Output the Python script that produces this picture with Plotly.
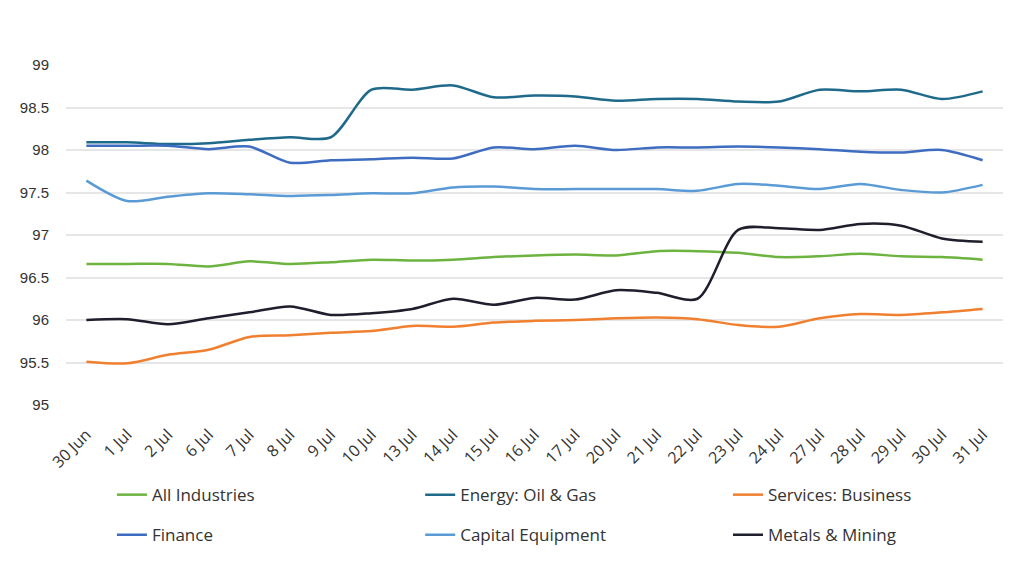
import plotly.graph_objects as go

dates = ["30 Jun", "1 Jul", "2 Jul", "6 Jul", "7 Jul", "8 Jul", "9 Jul", "10 Jul",
         "13 Jul", "14 Jul", "15 Jul", "16 Jul", "17 Jul", "20 Jul", "21 Jul",
         "22 Jul", "23 Jul", "24 Jul", "27 Jul", "28 Jul", "29 Jul", "30 Jul", "31 Jul"]

all_industries = [96.66, 96.66, 96.66, 96.63, 96.69, 96.66, 96.68, 96.71, 96.70, 96.71,
                  96.74, 96.76, 96.77, 96.76, 96.81, 96.81, 96.79, 96.74, 96.75, 96.78,
                  96.75, 96.74, 96.71]
energy = [98.09, 98.09, 98.07, 98.08, 98.12, 98.15, 98.15, 98.71, 98.71, 98.76,
          98.62, 98.64, 98.63, 98.58, 98.60, 98.60, 98.57, 98.57, 98.71, 98.69,
          98.71, 98.60, 98.69]
services = [95.51, 95.49, 95.59, 95.65, 95.80, 95.82, 95.85, 95.87, 95.93, 95.92,
            95.97, 95.99, 96.00, 96.02, 96.03, 96.01, 95.94, 95.92, 96.02, 96.07,
            96.06, 96.09, 96.13]
finance = [98.05, 98.05, 98.05, 98.01, 98.04, 97.85, 97.88, 97.89, 97.91, 97.90,
           98.03, 98.01, 98.05, 98.00, 98.03, 98.03, 98.04, 98.03, 98.01, 97.98,
           97.97, 98.00, 97.88]
capital_equipment = [97.64, 97.40, 97.45, 97.49, 97.48, 97.46, 97.47, 97.49, 97.49, 97.56,
                     97.57, 97.54, 97.54, 97.54, 97.54, 97.52, 97.60, 97.58, 97.54, 97.60,
                     97.53, 97.50, 97.59]
metals = [96.00, 96.01, 95.95, 96.02, 96.09, 96.16, 96.06, 96.08, 96.13, 96.25,
          96.18, 96.26, 96.24, 96.35, 96.32, 96.25, 97.06, 97.08, 97.06, 97.13,
          97.11, 96.96, 96.92]

names = ["All Industries", "Energy: Oil & Gas", "Services: Business",
         "Finance", "Capital Equipment", "Metals & Mining"]
values = [all_industries, energy, services, finance, capital_equipment, metals]
colors = ["#6DB33F", "#1F6A8A", "#F07F2F", "#3D6CC0", "#5B9BD5", "#1E1E2C"]

# legend grid: 3 columns x 2 rows, one small legend per entry
col_x = [0.049, 0.378, 0.7065]
row_y = [-0.265, -0.383]

fig = go.Figure()
legends = {}
for i, (name, vals, color) in enumerate(zip(names, values, colors)):
    key = "legend" if i == 0 else f"legend{i + 1}"
    fig.add_trace(go.Scatter(
        x=dates, y=vals, mode="lines", name=name, legend=key,
        line=dict(color=color, width=2.5, shape="spline", smoothing=0.8),
    ))
    legends[key] = dict(
        orientation="h", xanchor="left", yanchor="middle",
        x=col_x[i % 3], y=row_y[i // 3],
        font=dict(family="Open Sans", size=17, color="#333333"),
        bgcolor="rgba(0,0,0,0)",
    )

# the page body has an 8px margin, so the margins are trimmed to compensate
fig.update_layout(
    width=1024, height=567,
    margin=dict(l=58, r=29, t=57, b=170, autoexpand=False),
    paper_bgcolor="white", plot_bgcolor="white",
    font=dict(family="Open Sans", color="#333333"),
    showlegend=True,
    **legends,
)
fig.update_xaxes(
    type="category", range=[-0.5, len(dates) - 0.5], tickangle=-45,
    showgrid=False, showline=False,
    ticks="outside", ticklen=13, tickcolor="rgba(0,0,0,0)",
    tickfont=dict(family="Open Sans", size=16, color="#333333"),
)
fig.update_yaxes(
    range=[95, 99], dtick=0.5, showgrid=True, gridcolor="#E6E6E6", gridwidth=1.5,
    zeroline=False, showline=False,
    tickfont=dict(family="Liberation Sans", size=15, color="#333333"),
    ticks="outside", ticklen=13, tickcolor="rgba(0,0,0,0)",
)

fig.write_html("out.html")
